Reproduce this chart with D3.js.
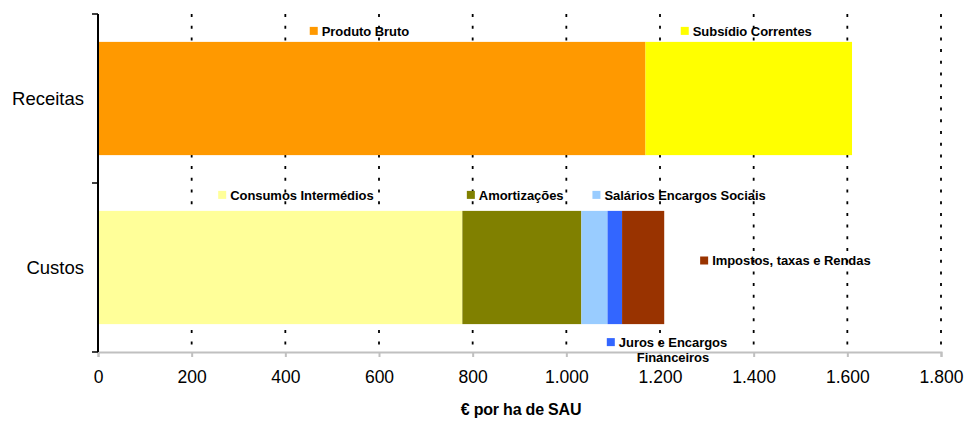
<!DOCTYPE html>
<html>
<head>
<meta charset="utf-8">
<script src="https://cdn.jsdelivr.net/npm/d3@7/dist/d3.min.js"></script>
<style>
  body { margin: 0; background: #fff; }
  svg text { font-family: "Liberation Sans", Arial, sans-serif; fill: #000; }
</style>
</head>
<body>
<svg id="chart" width="969" height="421"></svg>
<script>
'use strict';

// chart values (euro per ha of SAU)
var categories = ["Receitas", "Custos"];
var receitasSeries = ["Produto Bruto", "Subsídio Correntes"];
var receitasValues = [1169, 441];
var custosSeries = ["Consumos Intermédios", "Amortizações", "Salários Encargos Sociais",
                    "Juros e Encargos Financeiros", "Impostos, taxas e Rendas"];
var custosValues = [778, 254, 56, 31, 90];
var xTicks = [0, 200, 400, 600, 800, 1000, 1200, 1400, 1600, 1800];

var colors = {
  "Produto Bruto": "#ff9900",
  "Subsídio Correntes": "#ffff00",
  "Consumos Intermédios": "#ffff99",
  "Amortizações": "#808000",
  "Salários Encargos Sociais": "#99ccff",
  "Juros e Encargos Financeiros": "#3366ff",
  "Impostos, taxas e Rendas": "#993300"
};

// where excel dropped each data label (offset from segment centre)
var labelPlace = {
  "Produto Bruto": {pos: "above", dx: -62, dy: -11},
  "Subsídio Correntes": {pos: "above", dx: -68, dy: -11},
  "Consumos Intermédios": {pos: "above", dx: -62, dy: -16},
  "Amortizações": {pos: "above", dx: -55, dy: -16},
  "Salários Encargos Sociais": {pos: "above", dx: -2, dy: -16},
  "Juros e Encargos Financeiros": {pos: "below", dx: -8, dy: 18,
                                   lines: ["Juros e Encargos", "Financeiros"]},
  "Impostos, taxas e Rendas": {pos: "right", dx: 57, dy: -7}
};

var svg = d3.select("#chart");
var plotLeft = 98, plotRight = 941, plotTop = 14, plotBottom = 352;

var x = d3.scaleLinear().domain([0, 1800]).range([plotLeft, plotRight]);
var y = d3.scaleBand().domain(categories).range([plotTop, plotBottom])
          .paddingInner(0.33).paddingOuter(0.165);

// dotted gridlines
svg.append("g").selectAll("line")
  .data(xTicks.filter(function(d) { return d > 0; }))
  .enter().append("line")
  .attr("x1", function(d) { return x(d); })
  .attr("x2", function(d) { return x(d); })
  .attr("y1", plotTop).attr("y2", plotBottom)
  .attr("stroke", "#000")
  .attr("stroke-width", 1.8)
  .attr("stroke-dasharray", "3,8.7");

// stack the segments per category
function stackRows(cat, names, vals) {
  var acc = 0;
  return names.map(function(n, i) {
    var r = {cat: cat, name: n, x0: acc, x1: acc + vals[i]};
    acc += vals[i];
    return r;
  });
}
var segments = stackRows("Receitas", receitasSeries, receitasValues)
  .concat(stackRows("Custos", custosSeries, custosValues));

svg.append("g").selectAll("rect")
  .data(segments)
  .enter().append("rect")
  .attr("x", function(d) { return x(d.x0); })
  .attr("width", function(d) { return x(d.x1) - x(d.x0); })
  .attr("y", function(d) { return y(d.cat); })
  .attr("height", y.bandwidth())
  .attr("fill", function(d) { return colors[d.name]; });

// x axis (grey)
var xAxis = svg.append("g")
  .attr("transform", "translate(0," + plotBottom + ")")
  .call(d3.axisBottom(x).tickValues(xTicks).tickSize(5).tickPadding(14)
        .tickFormat(function(d) { return d3.format(",")(d).replace(/,/g, "."); }));
xAxis.select(".domain").attr("stroke", "#c0c0c0").attr("stroke-width", 2);
xAxis.selectAll(".tick line").attr("stroke", "#c0c0c0").attr("stroke-width", 2);
xAxis.selectAll(".tick text")
  .style("font-size", "17.5px").attr("fill", "#000");

svg.append("text")
  .attr("x", 521).attr("y", 415)
  .attr("text-anchor", "middle")
  .style("font-size", "16px").style("font-weight", "bold")
  .style("letter-spacing", "-0.2px")
  .text("€ por ha de SAU");

// y axis (black)
var yAxis = svg.append("g").attr("transform", "translate(" + plotLeft + ",0)");
yAxis.append("line")
  .attr("x1", 0).attr("x2", 0).attr("y1", plotTop).attr("y2", plotBottom)
  .attr("stroke", "#000").attr("stroke-width", 2);
yAxis.selectAll("line.tk")
  .data([plotTop, (plotTop + plotBottom) / 2, plotBottom])
  .enter().append("line").attr("class", "tk")
  .attr("x1", -6).attr("x2", 0)
  .attr("y1", function(d) { return d; }).attr("y2", function(d) { return d; })
  .attr("stroke", "#000").attr("stroke-width", 1.5);
yAxis.selectAll("text")
  .data(categories)
  .enter().append("text")
  .attr("x", -14)
  .attr("y", function(d) { return y(d) + y.bandwidth() / 2; })
  .attr("dy", "0.35em")
  .attr("text-anchor", "end")
  .style("font-size", "18.5px")
  .text(function(d) { return d; });

// data labels with colour keys
var lab = svg.append("g").selectAll("g")
  .data(segments)
  .enter().append("g")
  .attr("transform", function(d) {
    var p = labelPlace[d.name];
    var cx = (x(d.x0) + x(d.x1)) / 2 + p.dx;
    var cy;
    if (p.pos === "above") cy = y(d.cat) + p.dy;
    else if (p.pos === "below") cy = y(d.cat) + y.bandwidth() + p.dy;
    else cy = y(d.cat) + y.bandwidth() / 2 + p.dy;
    return "translate(" + cx + "," + cy + ")";
  });

lab.append("rect")
  .attr("x", 0).attr("y", -4).attr("width", 8).attr("height", 8)
  .attr("fill", function(d) { return colors[d.name]; });

lab.each(function(d) {
  var p = labelPlace[d.name];
  var g = d3.select(this);
  var t = g.append("text")
    .attr("x", 12).attr("dy", "0.36em")
    .style("font-size", "13px").style("font-weight", "bold")
    .style("letter-spacing", "-0.05px");
  if (p.lines) {
    t.text(p.lines[0]);
    var w = t.node().getComputedTextLength();
    g.append("text")
      .attr("x", 12 + w / 2).attr("y", 15).attr("dy", "0.36em")
      .attr("text-anchor", "middle")
      .style("font-size", "13px").style("font-weight", "bold")
      .style("letter-spacing", "-0.05px")
      .text(p.lines[1]);
  } else {
    t.text(d.name);
  }
});
</script>
</body>
</html>
